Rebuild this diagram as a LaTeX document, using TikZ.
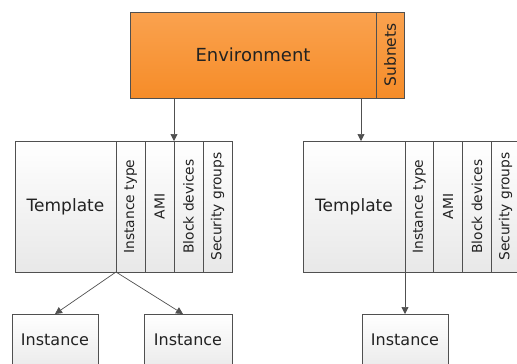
\documentclass[tikz,border=0pt]{standalone}
\usepackage{fontspec}
\setmainfont{DejaVu Sans}
\usetikzlibrary{arrows.meta}
\definecolor{edge}{HTML}{505050}
\definecolor{ink}{HTML}{222222}
\definecolor{orTop}{HTML}{FAA24F}
\definecolor{orBot}{HTML}{F68C28}
\begin{document}
\begin{tikzpicture}[x=1pt,y=-1pt,
  base/.style={draw=edge, line width=0.7pt, anchor=north west, inner sep=0pt, outer sep=0pt, text=ink},
  envbox/.style={base, top color=orTop, bottom color=orBot, font=\fontsize{18}{20}\selectfont},
  tbox/.style={base, top color=white, bottom color=black!9, font=\fontsize{17}{19}\selectfont},
  cbox/.style={base, top color=white, bottom color=black!9, font=\fontsize{13.8}{15}\selectfont, minimum height=131pt},
  ibox/.style={base, top color=white, bottom color=black!9, font=\fontsize{16}{18}\selectfont, minimum height=60pt},
  arr/.style={draw=edge, line width=0.7pt, -{Triangle[length=7pt,width=7pt]}}]
\useasboundingbox (0,0) rectangle (517,364);
% Environment
\node (env) [envbox, minimum width=246pt, minimum height=86pt] at (130,12) {Environment};
\node (sub) [envbox, minimum width=28pt, minimum height=86pt, font=\fontsize{15.5}{17}\selectfont] at (376,12) {\rotatebox{90}{Subnets}};
% Left template
\node (lT) [tbox, minimum width=101pt, minimum height=131pt] at (15,141) {Template};
\node (lA) [cbox, minimum width=29pt] at (116,141) {\rotatebox{90}{Instance type}};
\node (lB) [cbox, minimum width=29pt] at (145,141) {\rotatebox{90}{AMI}};
\node (lC) [cbox, minimum width=29pt] at (174,141) {\rotatebox{90}{Block devices}};
\node (lD) [cbox, minimum width=29pt] at (203,141) {\rotatebox{90}{Security groups}};
% Right template
\node (rT) [tbox, minimum width=102pt, minimum height=131pt] at (303,141) {Template};
\node (rA) [cbox, minimum width=28.75pt] at (405,141) {\rotatebox{90}{Instance type}};
\node (rB) [cbox, minimum width=28.75pt] at (433.75,141) {\rotatebox{90}{AMI}};
\node (rC) [cbox, minimum width=28.75pt] at (462.5,141) {\rotatebox{90}{Block devices}};
\node (rD) [cbox, minimum width=28.75pt] at (491.25,141) {\rotatebox{90}{Security groups}};
% Instances
\node (i1) [ibox, minimum width=86pt] at (12,314) {\raisebox{-1.5pt}[0pt][0pt]{Instance}};
\node (i2) [ibox, minimum width=88pt] at (144,314) {\raisebox{-1.5pt}[0pt][0pt]{Instance}};
\node (i3) [ibox, minimum width=86pt] at (362,314) {\raisebox{-1.5pt}[0pt][0pt]{Instance}};
% Connectors
\coordinate (envR) at (361,98);
\draw[arr] (env.south -| lC.west) -- (lC.north west);
\draw[arr] (envR) -- (envR |- rT.north);
\draw[arr] (lT.south east) -- (i1.north);
\draw[arr] (lT.south east) -- ([xshift=-5pt]i2.north);
\draw[arr] (rT.south east) -- (i3.north);
\end{tikzpicture}
\end{document}
